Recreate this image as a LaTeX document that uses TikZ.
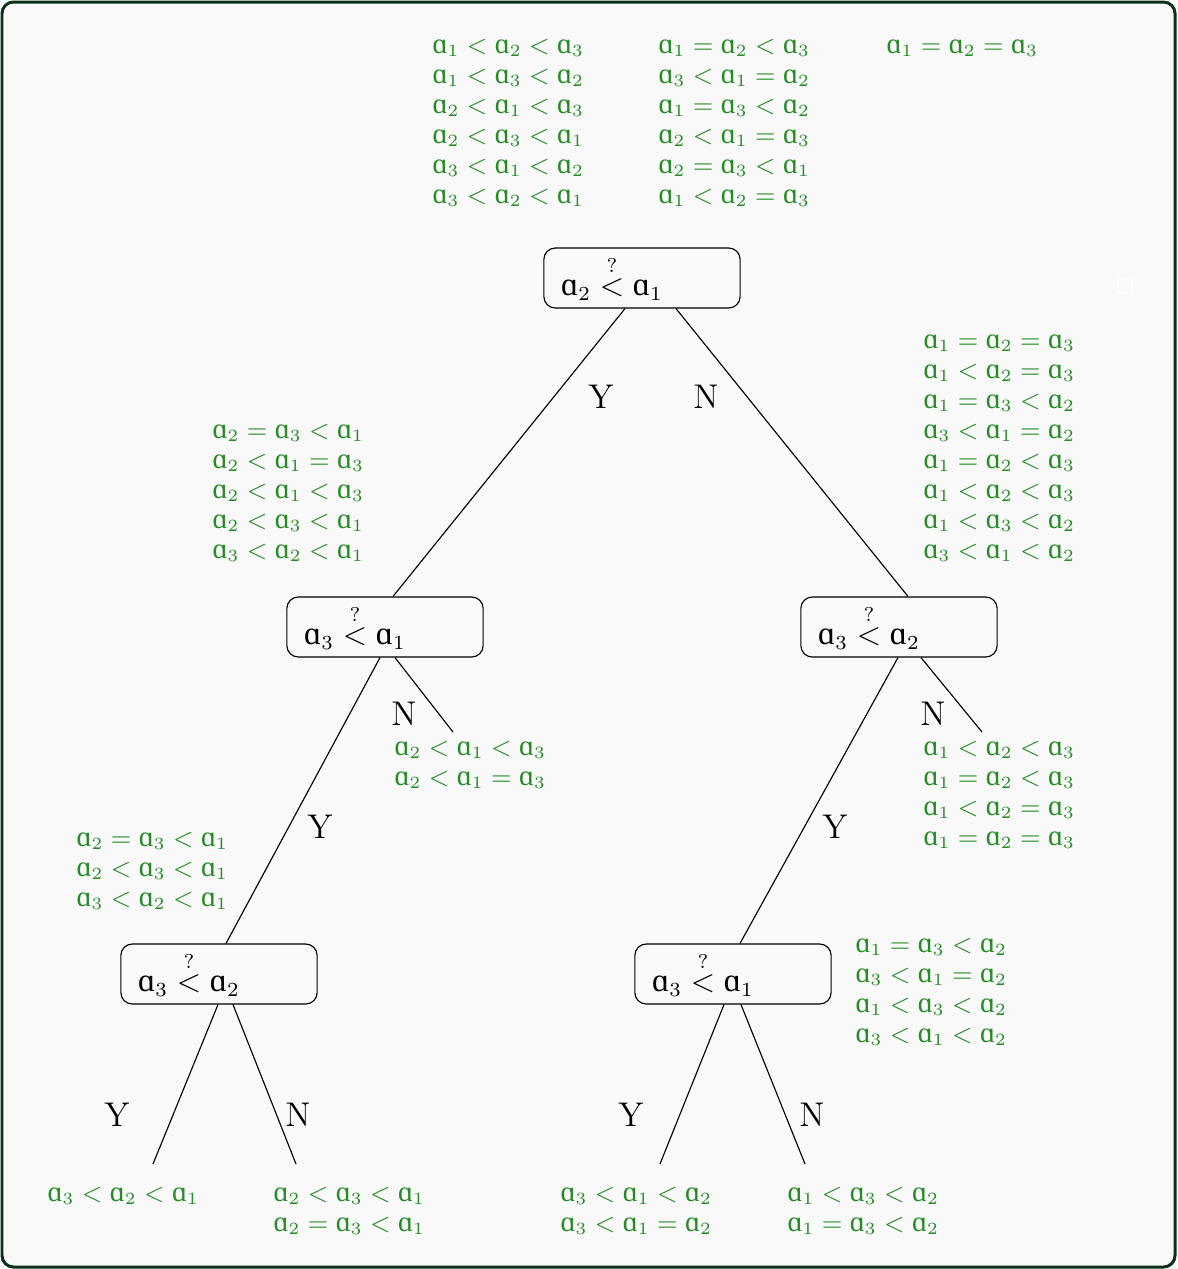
\documentclass[tikz,border=0pt]{standalone}
\usepackage{fontspec}
\usepackage{amsmath}
\usetikzlibrary{calc}
\newfontfamily\alfont[Scale=1.1]{Liberation Serif}
\newcommand{\al}[1]{\mbox{\alfont ɑ}_{#1}}
\newcommand{\qlt}{\overset{?}{<}}
\definecolor{listgreen}{RGB}{38,140,38}
\definecolor{framegreen}{RGB}{10,50,25}
\tikzset{
  test/.style={draw, rounded corners=4pt, minimum height=21pt, text width=56.7pt,
    inner xsep=6pt, inner ysep=1pt, align=left, font=\fontsize{10.5}{12.5}\selectfont},
  cases/.style={text=listgreen, anchor=north west, align=left, inner sep=0pt,
    font=\fontsize{9.2}{10.5}\selectfont},
  yn/.style={font=\fontsize{12}{14}\selectfont}
}
\begin{document}
\begin{tikzpicture}[x=0.35pt, y=-0.35pt]
    \useasboundingbox (0,0) rectangle (1177,1269);
    % Ramka
    \draw[framegreen, fill={rgb,255:red,249;green,249;blue,249}, line width=1.05pt, rounded corners=4pt] (2,2) rectangle (1175,1267);
    \node[draw=white, line width=0.5pt, minimum size=4.9pt, inner sep=0pt] (blank) at (1125,286) {};

    % Wszystkie przypadki
    \node[cases] (all1) at (432,39) {$\al1<\al2<\al3$\\ $\al1<\al3<\al2$\\ $\al2<\al1<\al3$\\ $\al2<\al3<\al1$\\ $\al3<\al1<\al2$\\ $\al3<\al2<\al1$};
    \node[cases] (all2) at (658,39) {$\al1=\al2<\al3$\\ $\al3<\al1=\al2$\\ $\al1=\al3<\al2$\\ $\al2<\al1=\al3$\\ $\al2=\al3<\al1$\\ $\al1<\al2=\al3$};
    \node[cases] (all3) at (886,39) {$\al1=\al2=\al3$};

    % Porownania
    \node[test] (root) at (642,278) {$\al2\qlt\al1$};
    \node[test] (lft) at (385,627) {$\al3\qlt\al1$};
    \node[test] (rgt) at (899,627) {$\al3\qlt\al2$};
    \node[test] (ll) at (219,974) {$\al3\qlt\al2$};
    \node[test] (rl) at (733,974) {$\al3\qlt\al1$};

    % Krawedzie
    \draw ($(root.south)+(-17,0)$) -- ($(lft.north)+(8,0)$);
    \draw ($(root.south)+(34,0)$) -- ($(rgt.north)+(9,0)$);
    \node[yn] (rootY) at (601,397) {Y};
    \node[yn] (rootN) at (706,397) {N};

    \coordinate (lftEnd) at (453,732);
    \draw ($(lft.south)+(10,0)$) -- (lftEnd);
    \draw ($(lft.south)+(-5,0)$) -- ($(ll.north)+(7,0)$);
    \node[yn] (lftN) at (404,714) {N};
    \node[yn] (lftY) at (320,827) {Y};

    \coordinate (rgtEnd) at (982,732);
    \draw ($(rgt.south)+(22,0)$) -- (rgtEnd);
    \draw ($(rgt.south)+(-1,0)$) -- ($(rl.north)+(7,0)$);
    \node[yn] (rgtN) at (933,714) {N};
    \node[yn] (rgtY) at (835,827) {Y};

    \coordinate (llY) at (153,1164);
    \coordinate (llN) at (296,1164);
    \draw ($(ll.south)+(-1,0)$) -- (llY);
    \draw ($(ll.south)+(14,0)$) -- (llN);
    \node[yn] (llYl) at (117,1115) {Y};
    \node[yn] (llNl) at (298,1115) {N};

    \coordinate (rlY) at (660,1164);
    \coordinate (rlN) at (805,1164);
    \draw ($(rl.south)+(-9,0)$) -- (rlY);
    \draw ($(rl.south)+(8,0)$) -- (rlN);
    \node[yn] (rlYl) at (631,1115) {Y};
    \node[yn] (rlNl) at (812,1115) {N};

    % Przypadki przy krawedziach
    \node[cases] (cRootY) at (212,424) {$\al2=\al3<\al1$\\ $\al2<\al1=\al3$\\ $\al2<\al1<\al3$\\ $\al2<\al3<\al1$\\ $\al3<\al2<\al1$};
    \node[cases] (cRootN) at (923,334) {$\al1=\al2=\al3$\\ $\al1<\al2=\al3$\\ $\al1=\al3<\al2$\\ $\al3<\al1=\al2$\\ $\al1=\al2<\al3$\\ $\al1<\al2<\al3$\\ $\al1<\al3<\al2$\\ $\al3<\al1<\al2$};
    \node[cases] (cLftN) at (394,741) {$\al2<\al1<\al3$\\ $\al2<\al1=\al3$};
    \node[cases] (cLftY) at (76,832) {$\al2=\al3<\al1$\\ $\al2<\al3<\al1$\\ $\al3<\al2<\al1$};
    \node[cases] (cRgtN) at (923,741) {$\al1<\al2<\al3$\\ $\al1=\al2<\al3$\\ $\al1<\al2=\al3$\\ $\al1=\al2=\al3$};
    \node[cases] (cRgtY) at (855,938) {$\al1=\al3<\al2$\\ $\al3<\al1=\al2$\\ $\al1<\al3<\al2$\\ $\al3<\al1<\al2$};

    % Liscie
    \node[cases] (leaf1) at (47,1187) {$\al3<\al2<\al1$};
    \node[cases] (leaf2) at (273,1187) {$\al2<\al3<\al1$\\ $\al2=\al3<\al1$};
    \node[cases] (leaf3) at (560,1187) {$\al3<\al1<\al2$\\ $\al3<\al1=\al2$};
    \node[cases] (leaf4) at (787,1187) {$\al1<\al3<\al2$\\ $\al1=\al3<\al2$};
\end{tikzpicture}
\end{document}
